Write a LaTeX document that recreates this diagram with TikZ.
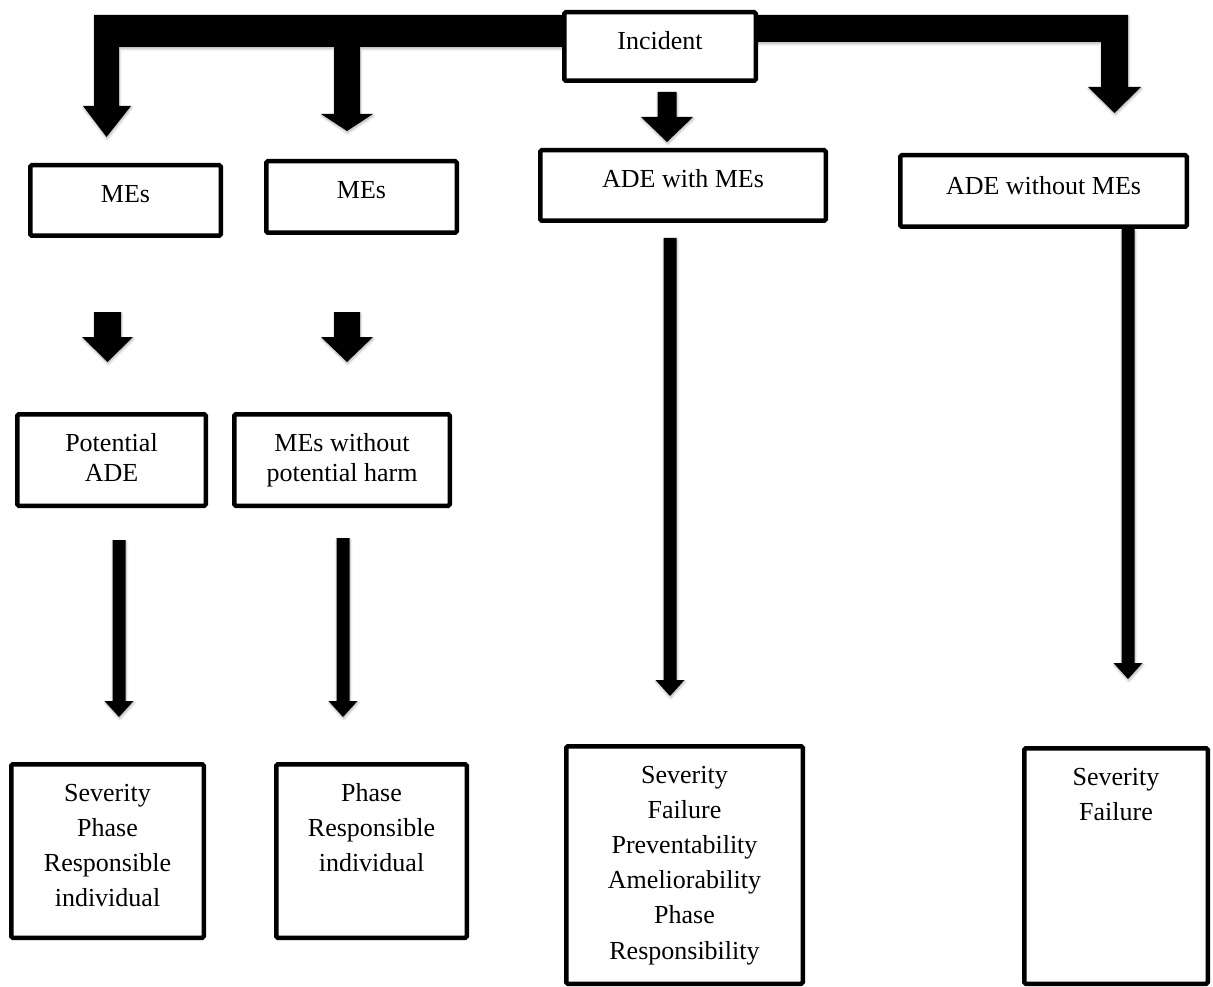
\documentclass[tikz,border=0pt]{standalone}
\usepackage{fontspec}
\setmainfont{Liberation Serif}
\usetikzlibrary{calc,backgrounds,shadows.blur}

% text block of a box: width, height, first baseline from top, line pitch, lines
\newcommand\boxtext[5]{\parbox[c][#2pt][t]{#1pt}{\fontsize{26pt}{#4pt}\selectfont\centering\rule{0pt}{#3pt}#5}}

% solid downward block arrow: tip, coordinate on the top line, shaft half-width, head half-width, head length
\newcommand\fatdown[5]{%
  \fill[fat] (#1) -- ++(#4,-#5) -- ++(#3-#4,0) coordinate (fdR) -- (fdR |- #2)
    -- ++(-2*#3,0) coordinate (fdL) -- (fdL |- fdR) -- ++(#3-#4,0) -- cycle;}

\begin{document}
\begin{tikzpicture}[x=1pt,y=-1pt,
  box/.style={draw=black, line width=4.5pt, fill=white, rounded corners=1.5pt, inner sep=0pt},
  fat/.style={fill=black, blur shadow={shadow xshift=0.6pt, shadow yshift=-1.8pt,
      shadow blur radius=2.5pt, shadow blur steps=6, shadow opacity=30}}]
\useasboundingbox (0,0) rectangle (1213,987);

% ---- boxes ----
\node[box] (inc)   at (660,46.5)    {\boxtext{191.5}{68.5}{37.75}{30}{Incident}};
\node[box] (me1)   at (125.5,200.5) {\boxtext{190.5}{70.5}{37.75}{30}{MEs}};
\node[box] (me2)   at (361.5,197)   {\boxtext{190.5}{71.5}{37.75}{30}{MEs}};
\node[box] (adew)  at (683,185.5)   {\boxtext{285.5}{70.5}{37.75}{30}{ADE with MEs}};
\node[box] (adewo) at (1043.5,191)  {\boxtext{286.5}{71.5}{39.75}{30}{ADE without MEs}};
\node[box] (pade)  at (111.5,460)   {\boxtext{188.5}{91.5}{36.75}{30}{Potential\\ADE}};
\node[box] (mewo)  at (342,460)     {\boxtext{215.5}{91.5}{36.75}{30}{MEs without\\potential harm}};
\node[box] (b1)    at (107.5,851)   {\boxtext{192.5}{173.5}{36.75}{35}{Severity\\Phase\\Responsible\\individual}};
\node[box] (b2)    at (371.5,851)   {\boxtext{190.5}{173.5}{36.75}{35}{Phase\\Responsible\\individual}};
\node[box] (b3)    at (684.5,865)   {\boxtext{236.5}{237.5}{36.75}{35.2}{Severity\\Failure\\Preventability\\Ameliorability\\Phase\\Responsibility}};
\node[box] (b4)    at (1116,866)    {\boxtext{183.5}{235.5}{36.75}{35}{Severity\\Failure}};

% ---- arrow geometry ----
\coordinate (sD) at (667,92);      % below Incident
\coordinate (tD) at (667,142);
\coordinate (sE) at (0,312);
\coordinate (tE) at (107.5,362);
\coordinate (tF) at (347,362);
\coordinate (sG) at (0,540);
\coordinate (tG) at (119,717);
\coordinate (sH) at (0,538);
\coordinate (tH) at (343,717);
\coordinate (sI) at (0,238);
\coordinate (tI) at (670,696);
\coordinate (tJ) at (1128,679);

\begin{pgfonlayer}{background}
  % left bus from the Incident box, splitting to both MEs boxes
  \fill[fat] (inc.center) -- (inc.center |- 0,15) -- (94,15) -- (94,106) -- (83,106)
    -- (106.5,137) -- (131,106) -- (119,106) -- (119,47) -- (334,47) -- (334,114)
    -- (321,114) -- (347,131) -- (373,114) -- (360,114) -- (360,47) -- (inc.center |- 0,47) -- cycle;
  % right bus to ADE without MEs
  \fill[fat] (inc.center) -- (inc.center |- 0,15) -- (1128,15) -- (1128,87) -- (1141,87)
    -- (1114.5,113) -- (1088,87) -- (1101,87) -- (1101,42) -- (inc.center |- 0,42) -- cycle;
  \fatdown{tD}{sD}{9.5}{26}{25}
  % second level
  \fatdown{tE}{sE}{13.5}{25.5}{25}
  \fatdown{tF}{sE}{13}{26}{25}
  % long connectors to the attribute boxes
  \fatdown{tG}{sG}{6.5}{14.5}{16}
  \fatdown{tH}{sH}{6.5}{14.5}{16}
  \fatdown{tI}{sI}{6.5}{14.5}{16}
  \fatdown{tJ}{adewo.south}{6.5}{14.5}{16}
\end{pgfonlayer}
\end{tikzpicture}
\end{document}
